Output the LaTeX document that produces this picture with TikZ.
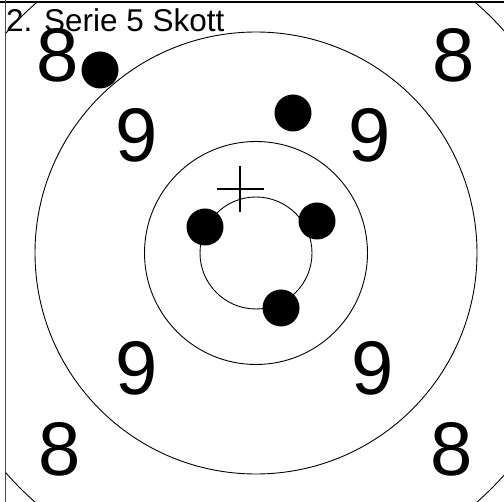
\documentclass[tikz,border=0pt]{standalone}
\usepackage{fontspec}
\setmainfont{Liberation Sans}
\begin{document}
\begin{tikzpicture}[x=1pt, y=-1pt,
  ring/.style={draw=black, line width=0.9pt},
  num/.style={font=\fontsize{76}{76}\selectfont, inner sep=0pt},
  shot/.style={circle, fill=black, minimum size=37pt, inner sep=0pt}]
\useasboundingbox (0,0) rectangle (504,502);
\coordinate (mid) at (256,253);
% frame
\draw[line width=1.2pt] (0,2) -- (504,2);
\draw[black!70, line width=1pt] (5.5,0) -- (5.5,502);
% rings
\begin{scope}
\clip (5.5,2) rectangle (504,502);
\draw[ring] (mid) circle (333);
\end{scope}
\draw[ring] (mid) circle (221);
\draw[ring] (mid) circle (111.5);
\draw[ring] (mid) circle (56);
% title
\node[anchor=base west, inner sep=0pt, font=\fontsize{31.5}{31.5}\selectfont] (title) at (6,31.5) {2. Serie 5 Skott};
% ring values
\node[num] (eightTL) at (58,55) {8};
\node[num] (eightTR) at (454,55) {8};
\node[num] (eightBL) at (60,449) {8};
\node[num] (eightBR) at (452,449) {8};
\node[num] (nineTL) at (137,135) {9};
\node[num] (nineTR) at (370,135) {9};
\node[num] (nineBL) at (137,368) {9};
\node[num] (nineBR) at (373,368) {9};
% aim mark
\coordinate (aim) at (240,189);
\draw[line width=2pt] ([xshift=-23pt]aim) -- ([xshift=24pt]aim);
\draw[line width=2pt] ([yshift=-23pt]aim) -- ([yshift=23pt]aim);
% shots
\node[shot] (shotA) at (100,70) {};
\node[shot] (shotB) at (293,113) {};
\node[shot] (shotC) at (205,227) {};
\node[shot] (shotD) at (317,221) {};
\node[shot] (shotE) at (281,308) {};
\end{tikzpicture}
\end{document}
